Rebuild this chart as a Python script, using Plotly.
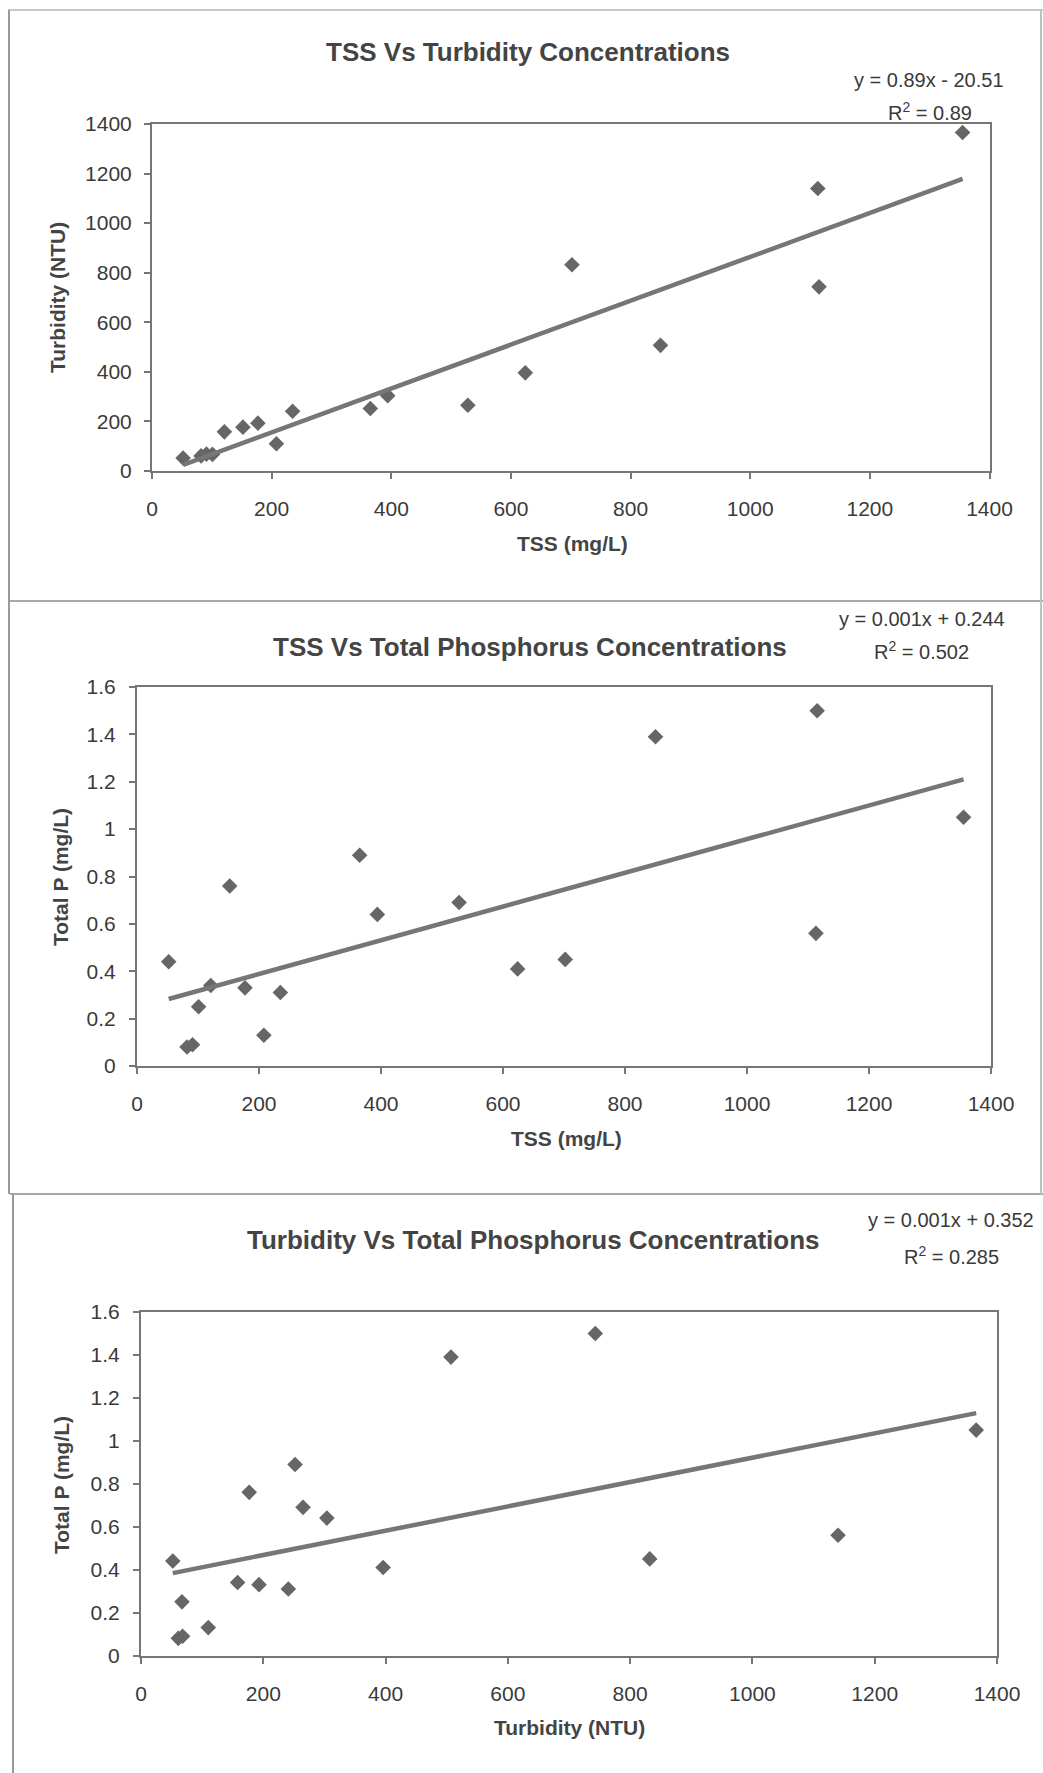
import numpy as np
import plotly.graph_objects as go

# ---------------- data ----------------
tss_mg_l = [52, 82, 91, 101, 121, 152, 177, 208, 235, 365, 394, 528, 624, 702, 850, 1113, 1115, 1355]
turbidity_ntu = [52, 61, 68, 67, 158, 177, 193, 110, 241, 252, 304, 265, 396, 832, 507, 1140, 743, 1366]
total_p_mg_l = [0.44, 0.08, 0.09, 0.25, 0.34, 0.76, 0.33, 0.13, 0.31, 0.89, 0.64, 0.69, 0.41, 0.45, 1.39, 0.56, 1.50, 1.05]

chart_titles = [
    "TSS Vs Turbidity Concentrations",
    "TSS Vs Total Phosphorus Concentrations",
    "Turbidity Vs Total Phosphorus Concentrations",
]
x_titles = ["TSS (mg/L)", "TSS (mg/L)", "Turbidity (NTU)"]
y_titles = ["Turbidity (NTU)", "Total P (mg/L)", "Total P (mg/L)"]
equations = ["y = 0.89x - 20.51", "y = 0.001x + 0.244", "y = 0.001x + 0.352"]
r_squared = ["R<sup>2</sup> = 0.89", "R<sup>2</sup> = 0.502", "R<sup>2</sup> = 0.285"]

x_tick_vals = [0, 200, 400, 600, 800, 1000, 1200, 1400]
y_tick_vals_turb = [0, 200, 400, 600, 800, 1000, 1200, 1400]
y_tick_vals_p = [0, 0.2, 0.4, 0.6, 0.8, 1.0, 1.2, 1.4, 1.6]
y_tick_text_p = ["0", "0.2", "0.4", "0.6", "0.8", "1", "1.2", "1.4", "1.6"]

# ---------------- layout helpers (pixel -> paper) ----------------
W, H = 1043, 1773
def PX(x):
    return x / W
def PY(y):
    return 1 - y / H

FONT = "Liberation Sans, Arial, sans-serif"
TXT = "#3a3a3a"
GRAY = "#767676"
MARK = "#666666"

pairs = [
    (tss_mg_l, turbidity_ntu),
    (tss_mg_l, total_p_mg_l),
    (turbidity_ntu, total_p_mg_l),
]

# plot-area boxes in pixels: left, right, top, bottom
boxes = [
    (152, 989.5, 124, 471),
    (137, 991, 687, 1066),
    (141, 997, 1312, 1655.5),
]

fig = go.Figure()
for i, (xs, ys) in enumerate(pairs):
    n = "" if i == 0 else str(i + 1)
    fig.add_trace(go.Scatter(
        x=xs, y=ys, mode="markers", xaxis="x" + n, yaxis="y" + n,
        marker=dict(symbol="diamond", size=12, color=MARK, line=dict(width=0)),
        showlegend=False, hoverinfo="x+y",
    ))
    k, b = np.polyfit(np.array(xs, float), np.array(ys, float), 1)
    lx = [min(xs), max(xs)]
    fig.add_trace(go.Scatter(
        x=lx, y=[k * v + b for v in lx], mode="lines", xaxis="x" + n, yaxis="y" + n,
        line=dict(color="#767676", width=4.5), showlegend=False, hoverinfo="skip",
    ))

axis_common = dict(
    showline=True, mirror=True, linecolor=GRAY, linewidth=2,
    ticks="outside", tickcolor=GRAY, ticklen=6, tickwidth=1.5,
    showgrid=False, zeroline=False, automargin=False,
    tickfont=dict(family=FONT, size=21, color=TXT),
)

layout = dict(
    template="none",
    width=W, height=H, margin=dict(l=0, r=0, t=0, b=0, pad=0, autoexpand=False),
    paper_bgcolor="white", plot_bgcolor="white",
    showlegend=False,
)
for i, (l, r, t, b) in enumerate(boxes):
    n = "" if i == 0 else str(i + 1)
    xa = dict(axis_common, domain=[PX(l), PX(r)], range=[0, 1400],
              tickvals=x_tick_vals, anchor="y" + n, ticklabelstandoff=12)
    if i == 0:
        ya = dict(axis_common, domain=[PY(b), PY(t)], range=[0, 1400],
                  tickvals=y_tick_vals_turb, anchor="x" + n, ticklabelstandoff=8)
    else:
        ya = dict(axis_common, domain=[PY(b), PY(t)], range=[0, 1.6],
                  tickvals=y_tick_vals_p, ticktext=y_tick_text_p,
                  anchor="x" + n, ticklabelstandoff=9)
    layout["xaxis" + n] = xa
    layout["yaxis" + n] = ya

fig.update_layout(**layout)

# ---------------- text annotations ----------------
title_pos = [(528, 52), (530, 647), (533, 1240)]
eq_pos = [(929, 80), (922, 619), (951, 1220)]
r2_pos = [(930, 112), (921, 651), (951, 1255)]
xt_pos = [(572, 543), (566, 1138), (569, 1727)]
yt_pos = [(57, 298), (60, 877), (61, 1485)]

ann = []
for i in range(3):
    ann.append(dict(text="<b>%s</b>" % chart_titles[i], x=PX(title_pos[i][0]), y=PY(title_pos[i][1]),
                    xref="paper", yref="paper", showarrow=False, xanchor="center", yanchor="middle",
                    font=dict(family=FONT, size=26, color="#444444")))
    ann.append(dict(text=equations[i], x=PX(eq_pos[i][0]), y=PY(eq_pos[i][1]),
                    xref="paper", yref="paper", showarrow=False, xanchor="center", yanchor="middle",
                    font=dict(family=FONT, size=20, color=TXT)))
    ann.append(dict(text=r_squared[i], x=PX(r2_pos[i][0]), y=PY(r2_pos[i][1]),
                    xref="paper", yref="paper", showarrow=False, xanchor="center", yanchor="middle",
                    font=dict(family=FONT, size=20, color=TXT)))
    ann.append(dict(text="<b>%s</b>" % x_titles[i], x=PX(xt_pos[i][0]), y=PY(xt_pos[i][1]),
                    xref="paper", yref="paper", showarrow=False, xanchor="center", yanchor="middle",
                    font=dict(family=FONT, size=21, color="#444444")))
    ann.append(dict(text="<b>%s</b>" % y_titles[i], x=PX(yt_pos[i][0]), y=PY(yt_pos[i][1]),
                    xref="paper", yref="paper", showarrow=False, xanchor="center", yanchor="middle",
                    textangle=-90, font=dict(family=FONT, size=21, color="#444444")))
fig.update_layout(annotations=ann)

# ---------------- page frame lines (scanned page borders) ----------------
def hline(y, x0, x1, color="#a8a8a8", w=2):
    return dict(type="line", xref="paper", yref="paper", x0=PX(x0), x1=PX(x1), y0=PY(y), y1=PY(y),
                line=dict(color=color, width=w))
def vline(x, y0, y1, color="#a8a8a8", w=2):
    return dict(type="line", xref="paper", yref="paper", x0=PX(x), x1=PX(x), y0=PY(y0), y1=PY(y1),
                line=dict(color=color, width=w))

shapes = [
    hline(10, 8, 1043, "#c8c8c8"),
    hline(601, 8, 1043),
    hline(1194, 10, 1043),
    vline(9, 10, 1194, "#9a9a9a"),
    vline(13, 1194, 1773, "#9a9a9a"),
    vline(1041, 10, 1194, "#c0c0c0"),
]
fig.update_layout(shapes=shapes)

fig.write_html(
    "out.html",
    config={"displayModeBar": False},
    post_script="document.body.style.margin='0';document.body.style.overflow='hidden';",
)
